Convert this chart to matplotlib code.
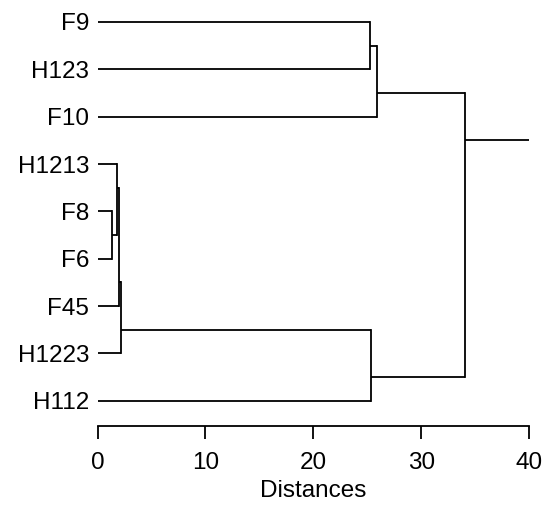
import matplotlib
matplotlib.use("Agg")
import matplotlib.pyplot as plt

plt.rcParams['font.family'] = ['Liberation Sans', 'DejaVu Sans']

# Leaves in display order (top to bottom)
leaves = ["F9", "H123", "F10", "H1213", "F8", "F6", "F45", "H1223", "H112"]

# Cluster joins (left child, right child, joining distance)
node_names = ["A", "B", "C", "D", "E", "F", "G", "root"]
node_left = ["F9", "A", "F8", "H1213", "D", "E", "F", "B"]
node_right = ["H123", "F10", "F6", "C", "F45", "H1223", "H112", "G"]
node_height = [25.2, 25.9, 1.3, 1.85, 2.0, 2.15, 25.3, 34.0]
root_stem_end = 40

xticks = [0, 10, 20, 30, 40]
xlabel = "Distances"

FS = 17.5

fig = plt.figure(figsize=(5.44, 5.07), dpi=100)
ax = fig.add_axes([97.5 / 544, (507 - 425.7) / 507, (529.3 - 97.5) / 544, (425.7 - 22) / 507])

height = {name: 0.0 for name in leaves}
first = {name: i for i, name in enumerate(leaves)}
last = {name: i for i, name in enumerate(leaves)}
stem = {name: float(i) for i, name in enumerate(leaves)}

lw = 1.3
for name, l, r, h in zip(node_names, node_left, node_right, node_height):
    first[name] = first[l]
    last[name] = last[r]
    stem[name] = (last[l] + first[r]) / 2.0
    height[name] = h
    for c in (l, r):
        ax.plot([height[c], h], [stem[c], stem[c]], color='black', lw=lw,
                solid_capstyle='butt', clip_on=False)
    ax.plot([h, h], [stem[l], stem[r]], color='black', lw=lw,
            solid_capstyle='projecting', clip_on=False)

root = node_names[-1]
ax.plot([height[root], root_stem_end], [stem[root], stem[root]], color='black', lw=lw,
        solid_capstyle='butt', clip_on=False)

ax.set_xlim(0, 40)
ax.set_ylim(8 * 403.7 / 378.7, 0)

for s in ['top', 'right', 'left']:
    ax.spines[s].set_visible(False)
ax.spines['bottom'].set_linewidth(1.3)
ax.set_xticks(xticks)
ax.set_xticklabels([str(t) for t in xticks], fontsize=FS)
ax.tick_params(axis='x', length=9, width=1.3, pad=10)
ax.set_yticks(range(len(leaves)))
ax.set_yticklabels(leaves, fontsize=FS)
ax.tick_params(axis='y', length=0, pad=6)
ax.set_xlabel(xlabel, fontsize=FS, labelpad=4)

fig.savefig("out.png", dpi=100)
